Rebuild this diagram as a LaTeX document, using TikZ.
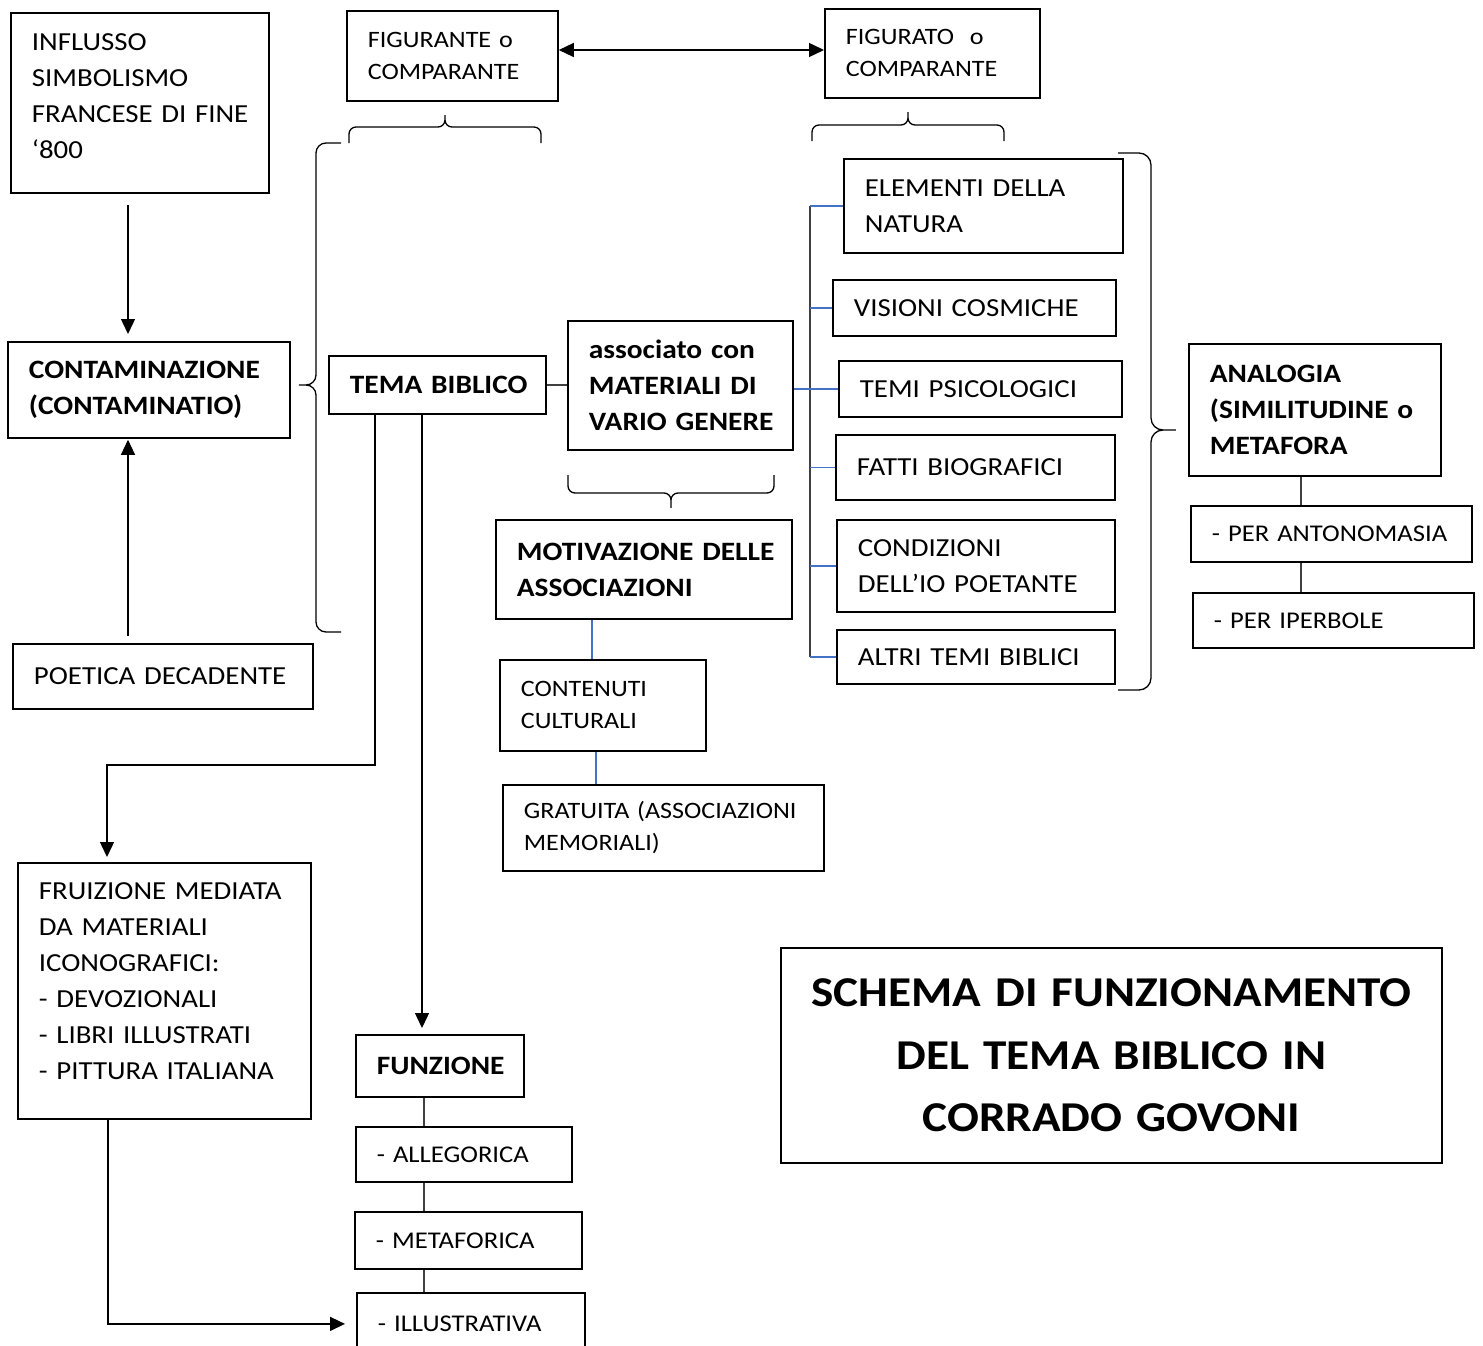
\documentclass[tikz,border=0pt]{standalone}
\usepackage{fontspec}
\setmainfont{Carlito}[FakeStretch=1.11]
\usetikzlibrary{arrows.meta}

\definecolor{treeblue}{HTML}{4472C4}
\definecolor{linegray}{HTML}{404040}
\hyphenpenalty=10000
\exhyphenpenalty=10000
\hbadness=10000
\hfuzz=20pt

\begin{document}
\begin{tikzpicture}[x=1pt,y=-1pt,
    box/.style={draw, line width=1.8pt, anchor=north west, inner xsep=21pt, inner ysep=0pt,
        align=left, font=\fontsize{26}{36}\selectfont},
    small/.style={font=\fontsize{23.5}{32}\selectfont},
    item/.style={font=\fontsize{24}{36}\selectfont},
    heavy/.style={font=\fontsize{26.5}{36}\selectfont\bfseries},
    link/.style={line width=1.4pt, draw=linegray},
    tree/.style={line width=1.3pt, draw=treeblue},
    arr/.style={line width=1.4pt, -{Triangle[length=15pt,width=14pt]}},
    curly/.style={line width=1.3pt, rounded corners=#1}
]
    \clip (0,0) rectangle (1483,1346);
    \fill[white] (0,0) rectangle (1483,1346);

    % Left column
    \node[box, text width=216pt, minimum height=180pt, text depth=122pt] (influsso) at (10,12)
        {INFLUSSO\\SIMBOLISMO\\FRANCESE~DI~FINE\\‘800};
    \node[box, heavy, text width=240pt, minimum height=96pt] (contam) at (7,341)
        {CONTAMINAZIONE\\(CONTAMINATIO)};
    \node[box, text width=258pt, minimum height=65pt] (poetica) at (12,643) {POETICA~DECADENTE};
    \node[box, text width=251pt, minimum height=256pt, text depth=200pt] (fruizione) at (17,862)
        {FRUIZIONE~MEDIATA\\DA~MATERIALI\\ICONOGRAFICI:\\- DEVOZIONALI\\- LIBRI~ILLUSTRATI\\- PITTURA~ITALIANA};

    % Centre
    \node[box, small, text width=169pt, minimum height=90pt] (figurante) at (346,10) {FIGURANTE~o\\COMPARANTE};
    \node[box, small, text width=173pt, minimum height=89pt] (figurato) at (824,8) {FIGURATO\ \ o\\COMPARANTE};
    \node[box, heavy, text width=175pt, minimum height=58pt] (tema) at (328,355) {TEMA~BIBLICO};
    \node[box, heavy, text width=183pt, minimum height=129pt] (assoc) at (567,320)
        {associato~con\\MATERIALI~DI\\VARIO~GENERE};
    \node[box, heavy, text width=254pt, minimum height=99pt] (motiv) at (495,519)
        {MOTIVAZIONE~DELLE\\ASSOCIAZIONI};
    \node[box, small, text width=164pt, minimum height=91pt] (contenuti) at (499,659) {CONTENUTI\\CULTURALI};
    \node[box, small, text width=279pt, minimum height=86pt] (gratuita) at (502,784)
        {GRATUITA~(ASSOCIAZIONI\\MEMORIALI)};

    % Themes of the figurato
    \node[box, text width=237pt, minimum height=94pt] (natura) at (843,158) {ELEMENTI~DELLA\\NATURA};
    \node[box, text width=241pt, minimum height=56pt] (visioni) at (832,279) {VISIONI~COSMICHE};
    \node[box, text width=241pt, minimum height=56pt] (psico) at (838,360) {TEMI~PSICOLOGICI};
    \node[box, text width=237pt, minimum height=65pt] (fatti) at (835,434) {FATTI~BIOGRAFICI};
    \node[box, text width=236pt, minimum height=92pt] (condiz) at (836,519) {CONDIZIONI\\DELL’IO~POETANTE};
    \node[box, text width=236pt, minimum height=54pt] (altri) at (836,629) {ALTRI~TEMI~BIBLICI};

    % Analogy
    \node[box, heavy, text width=210pt, minimum height=132pt] (analogia) at (1188,343)
        {ANALOGIA\\(SIMILITUDINE~o\\METAFORA};
    \node[box, item, text width=239pt, minimum height=56pt] (antonom) at (1190,505) {- PER~ANTONOMASIA};
    \node[box, item, text width=239pt, minimum height=55pt] (iperbole) at (1192,592) {- PER~IPERBOLE};

    % Functions
    \node[box, heavy, text width=126pt, minimum height=62pt] (funzione) at (355,1034) {FUNZIONE};
    \node[box, item, text width=174pt, minimum height=55pt] (allegorica) at (355,1126) {- ALLEGORICA};
    \node[box, item, text width=185pt, minimum height=57pt] (metaforica) at (354,1211) {- METAFORICA};
    \node[box, item, text width=186pt, minimum height=62pt] (illustr) at (356,1292) {- ILLUSTRATIVA};

    % Title
    \node[box, align=center, text width=619pt, minimum height=215pt,
        font=\fontsize{42.5}{62.5}\selectfont\bfseries] (titolo) at (780,947)
        {SCHEMA DI FUNZIONAMENTO\\DEL TEMA BIBLICO IN\\CORRADO GOVONI};

    % Columns and rows for connectors
    \coordinate (colA) at (128,0);
    \coordinate (colT) at (375,0);
    \coordinate (colL) at (107,0);
    \coordinate (colB) at (108,0);
    \coordinate (colF) at (422,0);
    \coordinate (colG) at (424,0);
    \coordinate (colM) at (592,0);
    \coordinate (colC) at (596,0);
    \coordinate (trunk) at (810,0);
    \coordinate (colR) at (1301,0);
    \coordinate (rowT) at (0,765);
    \coordinate (rowF) at (0,50);

    % Arrows
    \draw[arr, shorten <=11pt, shorten >=7pt] (colA |- influsso.south) -- (colA |- contam.north);
    \draw[arr, shorten <=7pt, shorten >=1pt] (colA |- poetica.north) -- (colA |- contam.south);
    \draw[arr, {Triangle[length=15pt,width=14pt]}-{Triangle[length=15pt,width=14pt]}]
        (figurante.east |- rowF) -- (figurato.west |- rowF);
    \draw[arr, shorten >=6pt] (colF |- tema.south) -- (colF |- funzione.north);
    \draw[arr, shorten >=5pt] (colT |- tema.south) |- (colL |- rowT) -- (colL |- fruizione.north);
    \draw[arr, shorten >=11pt] (colB |- fruizione.south) |- (illustr.west);

    % Plain links
    \draw[link] (tema.east) -- (tema.east -| assoc.west);
    \draw[link] (trunk |- natura.west) -- (trunk |- altri.west);
    \draw[tree] (assoc.east |- psico.west) -- (psico.west);
    \foreach \b in {natura,visioni,psico,fatti,condiz,altri}
        \draw[tree] (trunk |- \b.west) -- (\b.west);
    \draw[tree] (colM |- motiv.south) -- (colM |- contenuti.north);
    \draw[tree] (colC |- contenuti.south) -- (colC |- gratuita.north);
    \draw[link] (colR |- analogia.south) -- (colR |- antonom.north);
    \draw[link] (colR |- antonom.south) -- (colR |- iperbole.north);
    \draw[link] (colG |- funzione.south) -- (colG |- allegorica.north);
    \draw[link] (colG |- allegorica.south) -- (colG |- metaforica.north);
    \draw[link] (colG |- metaforica.south) -- (colG |- illustr.north);

    % Braces
    \draw[curly=7pt] (349,143) |- (445,127) -- (445,111) -- (445,127) -| (541,143);
    \draw[curly=7pt] (812,141) |- (908,125) -- (908,108) -- (908,125) -| (1004,141);
    \draw[curly=7pt] (568,475) |- (671,493) -- (671,512) -- (671,493) -| (774,475);
    \draw[curly=10pt] (341,143) -| (316,385) -- (293,385) -- (316,385) |- (341,632);
    \draw[curly=12pt] (1118,153) -| (1151,430) -- (1183,430) -- (1151,430) |- (1118,690);
\end{tikzpicture}
\end{document}
